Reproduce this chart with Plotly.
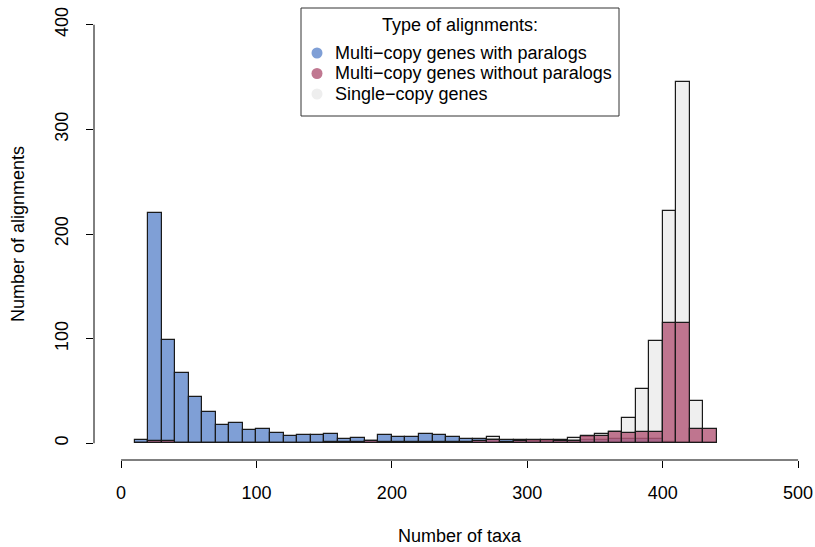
import plotly.graph_objects as go

bin_left = list(range(10, 440, 10))  # histogram bins of width 10: 10..440

with_paralogs = [3, 220, 99, 67, 44, 30, 17, 19, 13, 14, 10, 7, 8, 8, 9, 4, 5, 2, 8, 6,
                 6, 9, 8, 6, 4, 4, 3, 3, 2, 2, 2, 2, 2, 3, 3, 4, 4, 4, 4, 1, 0, 0, 0]
without_paralogs = [0, 2, 2, 0, 0, 0, 0, 0, 0, 0, 0, 0, 0, 0, 1, 1, 1, 2, 1, 1,
                    1, 1, 1, 1, 1, 2, 3, 1, 2, 3, 3, 2, 2, 7, 7, 11, 10, 11, 11, 115, 115, 14, 14]
single_copy = [0, 0, 0, 0, 0, 0, 0, 0, 0, 0, 0, 0, 0, 0, 0, 0, 0, 0, 0, 0,
               0, 0, 0, 0, 0, 2, 6, 2, 3, 2, 2, 3, 5, 6, 9, 11, 24, 52, 98, 222, 345, 40, 0]

names = ["Multi\u2212copy genes with paralogs", "Multi\u2212copy genes without paralogs", "Single\u2212copy genes"]
legend_title = "Type of alignments:"
x_ticks = [0, 100, 200, 300, 400, 500]
y_ticks = [0, 100, 200, 300, 400]

fills = ["#7f9fd6", "rgba(180,90,122,0.82)", "#efefef"]
legend_colors = ["#7f9fd6", "#c07891", "#eeeeee"]

centers = [b + 5 for b in bin_left]
FONT = "Liberation Sans, Arial, Helvetica, sans-serif"
FS = 18
line = dict(color="#1a1a1a", width=1.2)

W, H = 815, 547
L, T, B, R = 94, 8, 87, 0
PW, PH = W - L - R, H - T - B


def px(x):
    return (x - L) / PW


def py(y):
    return (H - B - y) / PH


fig = go.Figure()
fig.add_trace(go.Bar(x=centers, y=single_copy, width=10, name=names[2],
                     marker=dict(color=fills[2], line=line), showlegend=False))
fig.add_trace(go.Bar(x=centers, y=with_paralogs, width=10, name=names[0],
                     marker=dict(color=fills[0], line=line), showlegend=False))
fig.add_trace(go.Bar(x=centers, y=without_paralogs, width=10, name=names[1],
                     marker=dict(color=fills[1], line=line), showlegend=False))

shapes = [
    dict(type="line", xref="x", yref="paper", x0=0, x1=500, y0=0, y1=0,
         line=dict(color="black", width=1)),
    dict(type="line", xref="paper", yref="y", x0=0, x1=0, y0=0, y1=400,
         line=dict(color="black", width=1)),
    # legend box
    dict(type="rect", xref="paper", yref="paper", x0=px(301), x1=px(619), y0=py(116), y1=py(8),
         line=dict(color="#333", width=1), fillcolor="white", layer="above"),
]
annotations = [
    dict(text="Number of taxa", xref="x", yref="paper", x=250, y=0, yshift=-76,
         showarrow=False, xanchor="center", yanchor="middle", font=dict(size=FS)),
    dict(text="Number of alignments", xref="paper", yref="y", x=0, y=200, xshift=-76,
         showarrow=False, textangle=-90, xanchor="center", yanchor="middle", font=dict(size=FS)),
    dict(text=legend_title, xref="paper", yref="paper", x=px(460), y=py(25),
         showarrow=False, xanchor="center", yanchor="middle", font=dict(size=FS)),
]
item_y = [53, 73.5, 94]
for name, col, yy in zip(names, legend_colors, item_y):
    r = 5.5
    shapes.append(dict(type="circle", xref="paper", yref="paper",
                       x0=px(317 - r), x1=px(317 + r), y0=py(yy + r), y1=py(yy - r),
                       fillcolor=col, line=dict(width=0), layer="above"))
    annotations.append(dict(text=name, xref="paper", yref="paper", x=px(333), y=py(yy),
                            showarrow=False, xanchor="left", yanchor="middle",
                            font=dict(size=FS)))

fig.update_layout(
    width=W, height=H,
    margin=dict(l=L, r=R, t=T, b=B, autoexpand=False),
    paper_bgcolor="white", plot_bgcolor="white",
    barmode="overlay", bargap=0,
    font=dict(family=FONT, size=FS, color="black"),
    showlegend=False,
    xaxis=dict(range=[-20, -20 + PW / 1.354], tickvals=x_ticks, ticks="outside", ticklen=7,
               tickcolor="black", showgrid=False, zeroline=False, showline=False,
               ticklabelstandoff=9, tickfont=dict(size=FS), automargin=False),
    yaxis=dict(range=[-16, 416], tickvals=y_ticks, ticks="outside", ticklen=7,
               tickcolor="black", showgrid=False, zeroline=False, showline=False,
               tickangle=-90, ticklabelstandoff=11, tickfont=dict(size=FS), automargin=False),
    shapes=shapes,
    annotations=annotations,
)

fig.write_html("out.html", config={"displayModeBar": False},
               post_script="document.body.style.margin='0px';document.body.style.overflow='hidden';")
